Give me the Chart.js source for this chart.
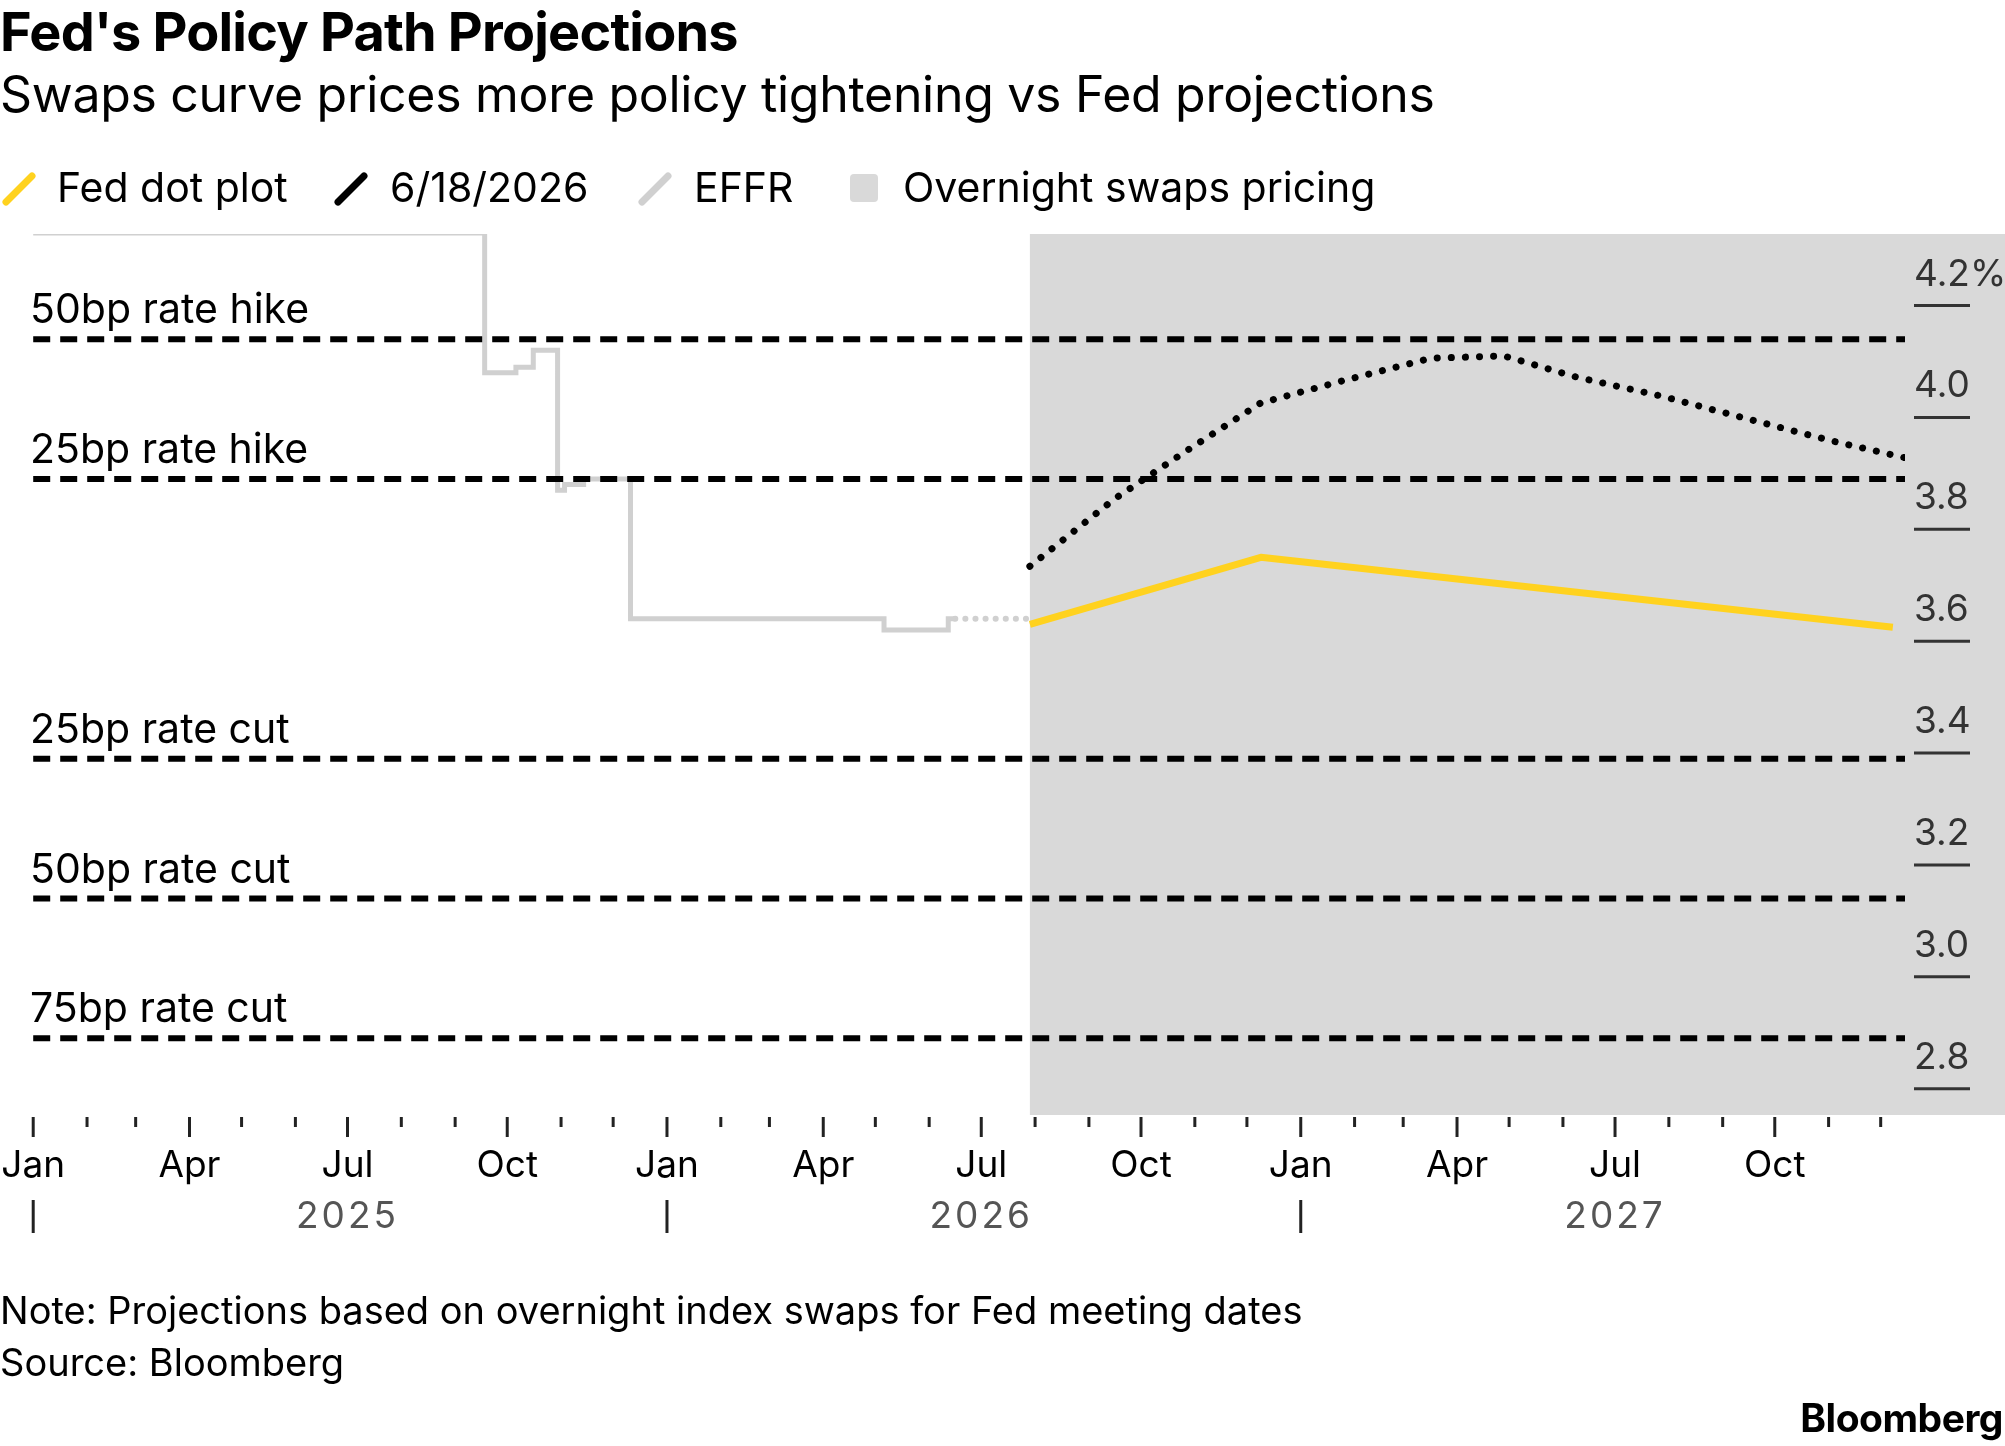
<!DOCTYPE html>
<html><head><meta charset="utf-8">
<script src="https://cdn.jsdelivr.net/npm/chart.js@4"></script>
<style>
html,body{margin:0;padding:0;background:#fff;width:2005px;height:1446px;overflow:hidden;font-family:Inter,"Liberation Sans",sans-serif;color:#000}
#wrap{position:absolute;left:0;top:0;width:2005px;height:1446px}
.t{position:absolute;white-space:nowrap}
#title{left:0;top:-1px;font-size:54px;font-weight:700;letter-spacing:-0.8px}
#sub{left:0;top:64px;font-size:50px;letter-spacing:-0.3px}
.leg{top:162px;font-size:41px}
#note{left:0;top:1287px;font-size:38px}
#src{left:0;top:1339px;font-size:38px}
#bb{right:2px;top:1394px;font-size:39px;font-weight:700;letter-spacing:-0.5px}
svg{position:absolute}
</style></head><body>
<div id="wrap">
<canvas id="c" width="2005" height="1446" style="position:absolute;left:0;top:0;width:2005px;height:1446px"></canvas>
<div class="t" id="title">Fed's Policy Path Projections</div>
<div class="t" id="sub">Swaps curve prices more policy tightening vs Fed projections</div>
<svg style="left:2px;top:170px" width="34" height="36"><line x1="4" y1="32" x2="30" y2="6" stroke="#FFD21F" stroke-width="7" stroke-linecap="round"/></svg>
<div class="t leg" style="left:57px">Fed dot plot</div>
<svg style="left:334px;top:170px" width="34" height="36"><line x1="4" y1="32" x2="30" y2="6" stroke="#000" stroke-width="7" stroke-linecap="round"/></svg>
<div class="t leg" style="left:390px">6/18/2026</div>
<svg style="left:638px;top:170px" width="34" height="36"><line x1="4" y1="32" x2="30" y2="6" stroke="#d0d0d0" stroke-width="7" stroke-linecap="round"/></svg>
<div class="t leg" style="left:694px">EFFR</div>
<svg style="left:850px;top:174px" width="30" height="30"><rect x="0" y="0" width="28" height="28" rx="4" fill="#d9d9d9"/></svg>
<div class="t leg" style="left:903px">Overnight swaps pricing</div>
<div class="t" id="note">Note: Projections based on overnight index swaps for Fed meeting dates</div>
<div class="t" id="src">Source: Bloomberg</div>
<div class="t" id="bb">Bloomberg</div>
</div>
<script>
const effrDates = ["2025-01-01","2025-09-18","2025-10-06","2025-10-16","2025-10-30","2025-11-03","2025-11-14","2025-12-11","2026-05-06","2026-06-12","2026-06-16"];
const effrValues = [4.33,4.08,4.09,4.12,3.87,3.88,3.89,3.64,3.62,3.64,3.64];
const effrDottedDates = ["2026-06-16","2026-07-29"];
const effrDottedValues = [3.64,3.64];
const dotDates = ["2026-07-29","2026-12-09","2027-12-08"];
const dotValues = [3.63,3.75,3.625];
const swapDates = ["2026-07-29","2026-09-16","2026-10-28","2026-12-09","2027-01-27","2027-03-17","2027-04-28","2027-06-09","2027-07-28","2027-09-22","2027-11-03","2027-12-15"];
const swapValues = [3.734,3.855,3.942,4.026,4.067,4.106,4.11,4.072,4.038,3.992,3.958,3.928];
const refLabels = ["50bp rate hike","25bp rate hike","25bp rate cut","50bp rate cut","75bp rate cut"];
const refValues = [4.14,3.89,3.39,3.14,2.89];
const yTickLabels = ["4.2%","4.0","3.8","3.6","3.4","3.2","3.0","2.8"];
const yTickValues = [4.2,4.0,3.8,3.6,3.4,3.2,3.0,2.8];
const monthLabels = ["Jan","","","Apr","","","Jul","","","Oct","",""];
const years = ["2025","2026","2027"];
const swapStart = "2026-07-29";
const axisStart = "2025-01-01", axisEnd = "2027-12-15";

const D0 = Date.UTC(2025,0,1);
const day = s => { const [y,m,d] = s.split("-").map(Number); return (Date.UTC(y,m-1,d)-D0)/86400000; };
const pts = (ds,vs) => ds.map((d,i)=>({x:day(d),y:vs[i]}));
const FONT = 'Inter, "Liberation Sans", sans-serif';

const datasets = [];
refValues.forEach(v=>datasets.push({data:[{x:day(axisStart),y:v},{x:day(axisEnd),y:v}],borderColor:"#000",borderWidth:6,borderDash:[17,10],pointRadius:0}));
datasets.push({data:pts(effrDates,effrValues),borderColor:"#d0d0d0",borderWidth:5,stepped:true,pointRadius:0});
datasets.push({data:pts(effrDottedDates,effrDottedValues),borderColor:"#d0d0d0",borderWidth:6,borderDash:[0.1,10],borderCapStyle:"round",pointRadius:0});
datasets.push({data:pts(swapDates,swapValues),borderColor:"#000",borderWidth:7,borderDash:[0.1,14],borderCapStyle:"round",pointRadius:0});
datasets.push({data:pts(dotDates,dotValues),borderColor:"#FFD21F",borderWidth:7,borderJoinStyle:"round",pointRadius:0});

const deco = {
  id:"deco",
  beforeDatasetsDraw(ch){
    const {ctx,chartArea:a,scales:{x}} = ch;
    ctx.save();
    ctx.fillStyle="#d9d9d9";
    const gx = x.getPixelForValue(day(swapStart));
    ctx.fillRect(gx,a.top,2005-gx,a.bottom-a.top);
    ctx.restore();
  },
  afterDraw(ch){
    const {ctx,chartArea:a,scales:{x,y}} = ch;
    ctx.save();
    ctx.fillStyle="#000"; ctx.font="41px "+FONT; ctx.textBaseline="alphabetic"; ctx.textAlign="left";
    refValues.forEach((v,i)=>ctx.fillText(refLabels[i],30,y.getPixelForValue(v)-16));
    ctx.fillStyle="#333"; ctx.strokeStyle="#333"; ctx.lineWidth=3; ctx.font="37px "+FONT;
    yTickValues.forEach((v,i)=>{
      const py = y.getPixelForValue(v);
      ctx.beginPath(); ctx.moveTo(1914,py); ctx.lineTo(1970,py); ctx.stroke();
      ctx.fillText(yTickLabels[i],1914,py-20);
    });
    ctx.strokeStyle="#222"; ctx.fillStyle="#000"; ctx.textAlign="center"; ctx.lineWidth=3;
    for(let yr=2025; yr<=2027; yr++){
      for(let m=0;m<12;m++){
        const s = `${yr}-${String(m+1).padStart(2,"0")}-01`;
        const d = day(s); if(d>day(axisEnd)) continue;
        const px = x.getPixelForValue(d);
        const major = m%3===0;
        ctx.beginPath(); ctx.moveTo(px,a.bottom+2); ctx.lineTo(px,a.bottom+(major?22:12)); ctx.stroke();
        if(major){ ctx.font="37px "+FONT; ctx.fillStyle="#000"; ctx.fillText(monthLabels[m],px,a.bottom+62); }
        if(m===0){ ctx.beginPath(); ctx.moveTo(px,a.bottom+85); ctx.lineTo(px,a.bottom+118); ctx.stroke(); }
        if(m===6){ ctx.font="37px "+FONT; ctx.fillStyle="#555"; ctx.save(); ctx.letterSpacing="3px"; ctx.fillText(years[yr-2025],px,a.bottom+113); ctx.restore(); }
      }
    }
    ctx.restore();
  }
};

new Chart(document.getElementById("c"),{
  type:"line",
  data:{datasets},
  options:{
    responsive:false,animation:false,devicePixelRatio:1,
    layout:{padding:{left:28,right:100,top:234,bottom:331}},
    plugins:{legend:{display:false},tooltip:{enabled:false}},
    scales:{
      x:{type:"linear",display:false,min:day(axisStart)-3,max:day(axisEnd)},
      y:{type:"linear",display:false,min:2.753,max:4.328}
    }
  },
  plugins:[deco]
});
</script>
</body></html>
